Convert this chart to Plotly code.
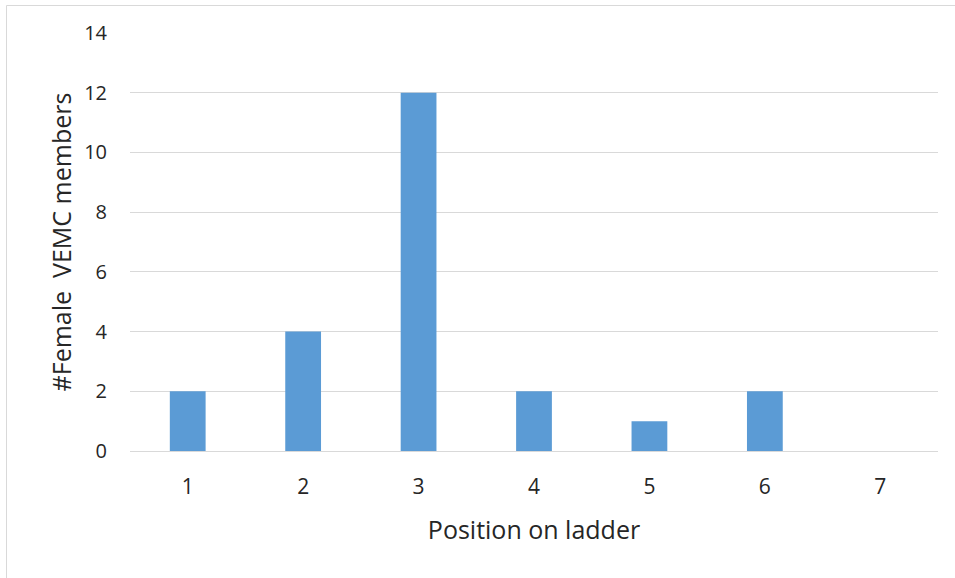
import plotly.graph_objects as go

positions = ["1", "2", "3", "4", "5", "6", "7"]
members = [2, 4, 12, 2, 1, 2, 0]

W, H = 955, 578
L, R, T, B = 130, 17, 33, 127
pw, ph = W - L - R, H - T - B

fig = go.Figure(go.Bar(x=positions, y=members, marker=dict(color="#5b9bd5", line=dict(width=0)),
                       hoverinfo="x+y"))

txt = "#262626"
font = dict(family="'Open Sans', Lato, sans-serif", size=21, color=txt)

fig.update_layout(
    width=W, height=H,
    margin=dict(l=L, r=R, t=T, b=B),
    paper_bgcolor="white", plot_bgcolor="white",
    bargap=0.69,
    showlegend=False,
    font=font,
    xaxis=dict(type="category", showgrid=False, zeroline=False, showline=False,
               ticks="", ticklabelstandoff=21, tickfont=dict(size=21, color=txt),
               title=dict(text="Position on ladder", standoff=22, font=dict(size=25, color=txt))),
    yaxis=dict(range=[0, 14], dtick=2, showgrid=True, gridcolor="#d9d9d9", gridwidth=1,
               zeroline=True, zerolinecolor="#d9d9d9", zerolinewidth=1, showline=False,
               ticks="", ticklabelstandoff=22, tickfont=dict(size=20, color=txt),
               title=dict(text="#Female  VEMC members", standoff=5, font=dict(size=25, color=txt))),
    shapes=[dict(type="rect", xref="paper", yref="paper",
                 x0=(6.5 - L) / pw, x1=(W + 5 - L) / pw,
                 y0=-(H + 5 - T - ph) / ph, y1=(ph + T - 5.5) / ph,
                 line=dict(color="#d9d9d9", width=1), fillcolor="rgba(0,0,0,0)", layer="below")],
)

fig.write_html("out.html")
